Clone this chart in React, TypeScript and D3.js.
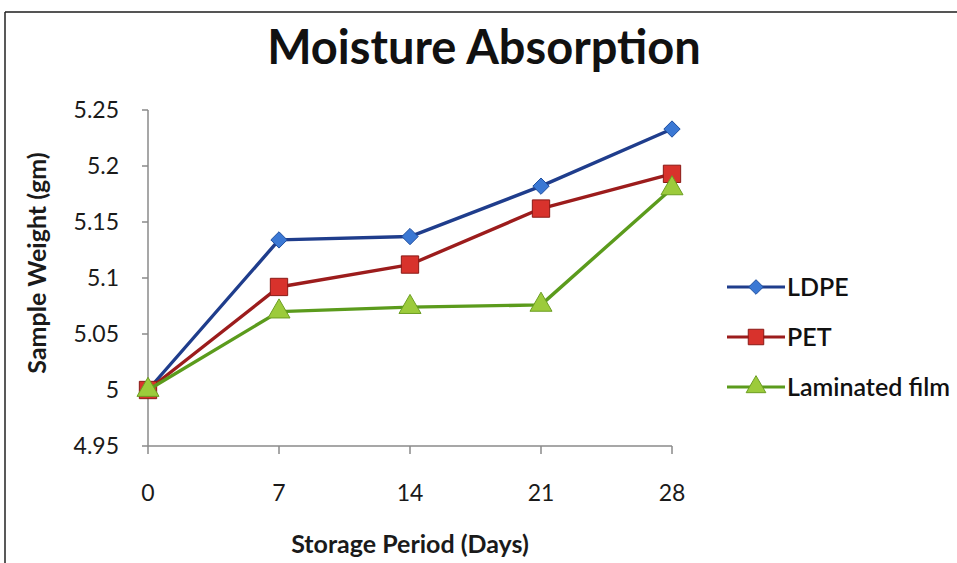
import React from "react";
import * as d3 from "d3";

const days = [0, 7, 14, 21, 28];
const yTicks = [4.95, 5, 5.05, 5.1, 5.15, 5.2, 5.25];
const ldpe = [5.0, 5.134, 5.137, 5.182, 5.233];
const pet = [5.0, 5.092, 5.112, 5.162, 5.193];
const laminated = [5.0, 5.07, 5.074, 5.076, 5.18];
const seriesNames = ["LDPE", "PET", "Laminated film"];

const W = 957;
const H = 563;
const FONT = "Lato, 'Open Sans', sans-serif";

export default function App() {
  const x = d3.scaleLinear().domain([0, 28]).range([148, 672]);
  const y = d3.scaleLinear().domain([4.95, 5.25]).range([446, 110]);
  const line = d3
    .line<number>()
    .x((_, i) => x(days[i]))
    .y((d) => y(d));

  const series = [
    { name: seriesNames[0], values: ldpe, stroke: "#1f3d8c", fill: "#3b78d4", markerStroke: "#1f4fa0", shape: d3.symbolDiamond2, size: 170 },
    { name: seriesNames[1], values: pet, stroke: "#9c1c1c", fill: "#d8322c", markerStroke: "#8a1a16", shape: d3.symbolSquare, size: 300 },
    { name: seriesNames[2], values: laminated, stroke: "#5b9b1c", fill: "#9ccb3b", markerStroke: "#6c9e22", shape: d3.symbolTriangle, size: 210 },
  ];

  const legendY = [287, 337, 387];

  return (
    <svg width={W} height={H} style={{ position: "absolute", left: 0, top: 0, background: "#fff" }} fontFamily={FONT}>
      <rect x={0} y={0} width={W} height={H} fill="#fff" />
      {/* frame */}
      <line x1={5} y1={12} x2={W} y2={12} stroke="#555" strokeWidth={2} />
      <line x1={5} y1={12} x2={5} y2={H} stroke="#222" strokeWidth={1.5} />

      <text x={484} y={64} textAnchor="middle" fontSize={47} fontWeight={700} fill="#111">
        Moisture Absorption
      </text>

      {/* y axis */}
      <line x1={x(0)} y1={y(5.25)} x2={x(0)} y2={y(4.95)} stroke="#8a8a8a" strokeWidth={1.5} />
      {yTicks.map((t) => (
        <g key={t}>
          <line x1={x(0) - 6} x2={x(0)} y1={y(t)} y2={y(t)} stroke="#8a8a8a" strokeWidth={1.5} />
          <text x={119} y={y(t)} dy="0.35em" textAnchor="end" fontSize={23} fill="#1a1a1a">
            {String(t)}
          </text>
        </g>
      ))}

      {/* x axis */}
      <line x1={x(0)} y1={y(4.95)} x2={x(28)} y2={y(4.95)} stroke="#8a8a8a" strokeWidth={1.5} />
      {days.map((d) => (
        <g key={d}>
          <line x1={x(d)} x2={x(d)} y1={y(4.95)} y2={y(4.95) + 8} stroke="#8a8a8a" strokeWidth={1.5} />
          <text x={x(d)} y={501} textAnchor="middle" fontSize={23} fill="#1a1a1a">
            {d}
          </text>
        </g>
      ))}

      <text x={410} y={553} textAnchor="middle" fontSize={25} fontWeight={700} fill="#1a1a1a">
        Storage Period (Days)
      </text>
      <text transform={`translate(46,263) rotate(-90)`} textAnchor="middle" fontSize={25} fontWeight={700} fill="#1a1a1a">
        Sample Weight (gm)
      </text>

      {series.map((s) => (
        <g key={s.name}>
          <path d={line(s.values) || ""} fill="none" stroke={s.stroke} strokeWidth={3.4} strokeLinejoin="round" />
          {s.values.map((v, i) => (
            <path
              key={i}
              d={d3.symbol().type(s.shape).size(s.size)() || ""}
              transform={`translate(${x(days[i])},${y(v)})`}
              fill={s.fill}
              stroke={s.markerStroke}
              strokeWidth={1}
            />
          ))}
        </g>
      ))}

      {/* legend */}
      {series.map((s, i) => (
        <g key={s.name} transform={`translate(0,${legendY[i]})`}>
          <line x1={727} x2={785} y1={0} y2={0} stroke={s.stroke} strokeWidth={3.2} />
          <path
            d={d3.symbol().type(s.shape).size(s.size * 0.8)() || ""}
            transform="translate(756,0)"
            fill={s.fill}
            stroke={s.markerStroke}
            strokeWidth={1}
          />
          <text x={787} y={0} dy="0.35em" fontSize={25} fontWeight={600} fill="#111">
            {s.name}
          </text>
        </g>
      ))}
    </svg>
  );
}
